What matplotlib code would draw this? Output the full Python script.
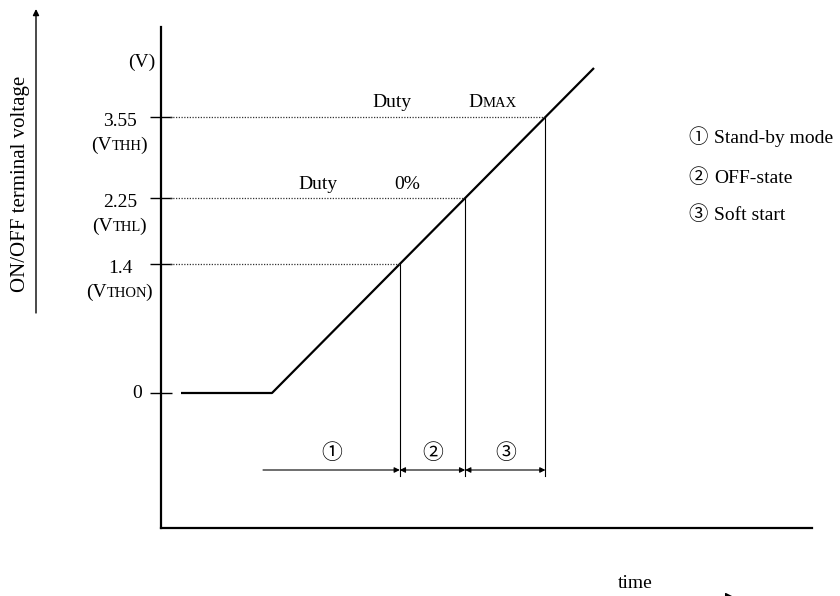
import numpy as np
import matplotlib
matplotlib.use("Agg")
import matplotlib.pyplot as plt
from matplotlib.transforms import offset_copy

plt.rcParams['font.family'] = ['Liberation Serif', 'Noto Sans CJK JP', 'DejaVu Sans']

# schematic trace (time, height) and threshold levels
trace_t = [20, 111, 433]
trace_v = [0, 0, 325]
level_pos = [0, 129, 195, 276]
level_labels = ["0", "1.4", "2.25", "3.55"]
level_names = [None, "THON", "THL", "THH"]
phase_marks = ["\u2460", "\u2461", "\u2462"]
phase_names = ["Stand-by mode", "OFF-state", "Soft start"]


def caps_text(ax, x, y, pieces, ha="center"):
    """Draw text made of (string, size, kern) pieces on one baseline, like small caps."""
    fig = ax.figure
    renderer = fig.canvas.get_renderer()
    texts = [ax.text(x, y, s, fontsize=fs, va="baseline", ha="left") for s, fs, _ in pieces]
    widths = [t.get_window_extent(renderer).width * 72 / fig.dpi + k
              for t, (_, _, k) in zip(texts, pieces)]
    off = -sum(widths) / 2 if ha == "center" else 0
    for t, w in zip(texts, widths):
        t.set_transform(offset_copy(ax.transData, fig=fig, x=off, y=0, units="points"))
        off += w
    return texts


fig = plt.figure(figsize=(8.4, 5.96), dpi=100)
ax = fig.add_axes([161 / 840, 68 / 596, 651 / 840, 501 / 596])
ax.set_xlim(0, 651)
ax.set_ylim(-135, 366)
for s in ["top", "right"]:
    ax.spines[s].set_visible(False)
ax.spines["left"].set_linewidth(1.6)
ax.spines["bottom"].set_linewidth(1.6)
ax.set_xticks([])
ax.set_yticks(level_pos)
ax.set_yticklabels([])
ax.tick_params(axis="y", direction="inout", length=16, width=1.0)

# voltage trace
ax.plot(trace_t, trace_v, color="black", lw=1.6, solid_capstyle="butt")

# threshold crossings
t_cross = np.interp(level_pos[1:], trace_v[1:], trace_t[1:])
for lv, tc in zip(level_pos[1:], t_cross):
    ax.plot([9, tc], [lv, lv], color="#333333", lw=0.9, ls=(0, (1, 1.2)))
    ax.plot([tc, tc], [lv, -83], color="black", lw=0.8)

# level tick labels
for lv, lab, name in zip(level_pos, level_labels, level_names):
    if name is None:
        ax.text(-24, lv, lab, fontsize=14, ha="center", va="center")
    else:
        ax.text(-41, lv - 4, lab, fontsize=14, ha="center", va="center")
        caps_text(ax, -42, lv - 33, [("(V", 14, 0), (name, 10.5, -1.0), (")", 14, 0)])
ax.text(-19, 331, "(V)", fontsize=14, ha="center", va="center")

# duty annotations
ax.text(157, level_pos[2] + 9, "Duty", fontsize=14, ha="center", va="baseline")
ax.text(246, level_pos[2] + 9, "0%", fontsize=14, ha="center", va="baseline")
ax.text(231, level_pos[3] + 10, "Duty", fontsize=14, ha="center", va="baseline")
caps_text(ax, 332, level_pos[3] + 10, [("D", 14, 0), ("MAX", 10.5, 0)])

# phase arrows
bounds = [102] + list(t_cross)
arrow_y = -77
for i in range(3):
    style = "-|>" if i == 0 else "<|-|>"
    ax.annotate("", xy=(bounds[i + 1], arrow_y), xytext=(bounds[i], arrow_y),
                arrowprops=dict(arrowstyle=style, color="black", lw=0.8,
                                mutation_scale=8, shrinkA=0, shrinkB=0))
    ax.text((bounds[i] + bounds[i + 1]) / 2, arrow_y + 16, phase_marks[i],
            fontsize=15, ha="center", va="center")

# legend of phases
for i, (mark, name) in enumerate(zip(phase_marks, phase_names)):
    yy = [255, 215, 178][i]
    ax.text(537, yy, mark, fontsize=14, ha="center", va="center")
    ax.text(553, yy, name, fontsize=14, ha="left", va="center")

# outer axis labels with arrows
ax.text(-140, 209, "ON/OFF terminal voltage", fontsize=15, rotation=90,
        ha="center", va="center")
ax.annotate("", xy=(-125, 384), xytext=(-125, 80), annotation_clip=False,
            arrowprops=dict(arrowstyle="-|>", color="black", lw=1.0,
                            mutation_scale=9, shrinkA=0, shrinkB=0))
ax.text(474, -190, "time", fontsize=14, ha="center", va="center")
ax.annotate("", xy=(574, -204.5), xytext=(400, -204.5), annotation_clip=False,
            arrowprops=dict(arrowstyle="-|>", color="black", lw=1.0,
                            mutation_scale=14, shrinkA=0, shrinkB=0))

fig.savefig("out.png", dpi=100)
